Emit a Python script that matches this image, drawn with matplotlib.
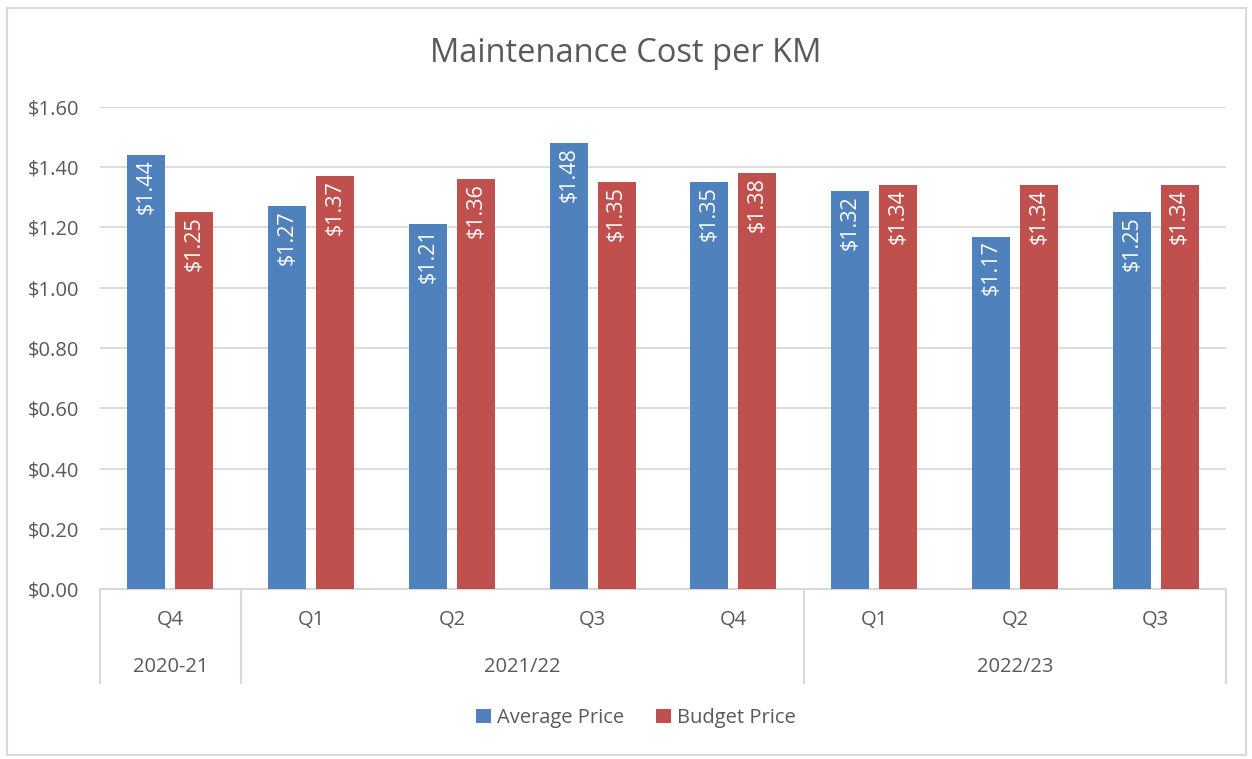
import numpy as np
import matplotlib.pyplot as plt
from matplotlib.patches import Rectangle
from matplotlib.lines import Line2D

quarters = ['Q4', 'Q1', 'Q2', 'Q3', 'Q4', 'Q1', 'Q2', 'Q3']
years = ['2020-21', '2021/22', '2022/23']
year_spans = [(0, 1), (1, 5), (5, 8)]   # group index ranges per year
avg_price = [1.44, 1.27, 1.21, 1.48, 1.35, 1.32, 1.17, 1.25]
budget_price = [1.25, 1.37, 1.36, 1.35, 1.38, 1.34, 1.34, 1.34]

BLUE = '#4F81BD'
RED = '#C0504D'
TEXT = '#595959'
GRID = '#D9D9D9'

plt.rcParams['font.family'] = ['Open Sans', 'DejaVu Sans']

fig = plt.figure(figsize=(12.52, 7.59), dpi=100)
ax = fig.add_axes([100 / 1252, 1 - 589 / 759, 1126 / 1252, 482 / 759])

# light border round the whole chart
fig.add_artist(Rectangle((7 / 1252, 1 - 755 / 759), 1239 / 1252, 747 / 759,
                         transform=fig.transFigure, fill=False,
                         edgecolor=GRID, lw=1.5))

x = np.arange(len(quarters))
w = 0.27
gap = 0.035
b1 = ax.bar(x - w / 2 - gap, avg_price, w, color=BLUE, label='Average Price', zorder=3)
b2 = ax.bar(x + w / 2 + gap, budget_price, w, color=RED, label='Budget Price', zorder=3)

for bars, vals in ((b1, avg_price), (b2, budget_price)):
    for rect, v in zip(bars, vals):
        ax.text(rect.get_x() + rect.get_width() / 2, v - 0.012, f'${v:.2f}',
                rotation=90, ha='center', va='top', color='white',
                fontsize=15.5, zorder=4)

ax.set_xlim(-0.5, len(quarters) - 0.5)
ax.set_ylim(0, 1.6)
ax.set_yticks(np.arange(0, 1.61, 0.2))
ax.set_yticklabels([f'${t:.2f}' for t in np.arange(0, 1.61, 0.2)],
                   fontsize=14.5, color=TEXT)
ax.tick_params(axis='y', length=0, pad=15)
ax.yaxis.grid(True, color=GRID, lw=1.3, zorder=0)
ax.set_xticks([])
for s in ('top', 'right', 'left'):
    ax.spines[s].set_visible(False)
ax.spines['bottom'].set_color(GRID)
ax.spines['bottom'].set_linewidth(1.5)

# two-level category axis
trans = ax.get_xaxis_transform()
q_y = -31 / 482
yr_y = -78 / 482
sep_bottom = -94 / 482
for i, q in enumerate(quarters):
    ax.text(i, q_y, q, ha='center', va='center', fontsize=14.5, color=TEXT,
            transform=trans)
bounds = sorted({s for span in year_spans for s in span})
for b in bounds:
    ax.add_line(Line2D([b - 0.5, b - 0.5], [0, sep_bottom], transform=trans,
                       color=GRID, lw=1.5, clip_on=False))
for name, (s, e) in zip(years, year_spans):
    ax.text((s + e - 1) / 2, yr_y, name, ha='center', va='center', fontsize=14.5,
            color=TEXT, transform=trans)

fig.text(0.5, 1 - 54 / 759, 'Maintenance Cost per KM', ha='center', va='center',
         fontsize=23.5, color=TEXT)

fig.legend(handles=[b1, b2], loc='center', bbox_to_anchor=(0.508, 1 - 718 / 759),
           ncol=2, frameon=False, fontsize=14.5, handlelength=0.75, handleheight=0.75,
           handletextpad=0.3, columnspacing=1.6, labelcolor=TEXT)

fig.savefig('out.png', dpi=100)
